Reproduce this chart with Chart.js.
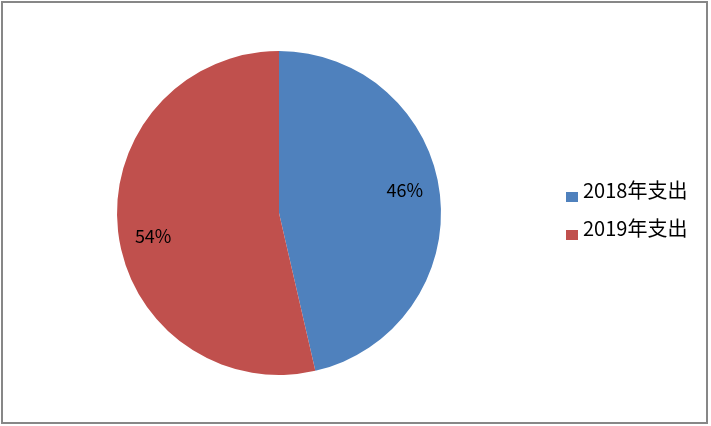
<!DOCTYPE html>
<html>
<head>
<meta charset="utf-8">
<script src="https://cdn.jsdelivr.net/npm/chart.js@4/dist/chart.umd.min.js"></script>
<style>
    html, body { margin: 0; padding: 0; background: #fff; }
    #wrap { position: relative; width: 711px; height: 426px; }
    #frame {
        position: absolute; left: 1px; top: 1px; width: 703px; height: 419px;
        border: 2px solid #878787;
    }
    canvas { position: absolute; left: 0; top: 0; }
</style>
</head>
<body>
<div id="wrap">
    <div id="frame"></div>
    <canvas id="pieChart" width="711" height="426"></canvas>
</div>
<script>
// Chart data
const categories = ['2018年支出', '2019年支出'];
const values = [46.4, 53.6];
const sliceColors = ['#4F81BD', '#C0504D'];

const labelFont = '18px "Noto Sans CJK SC", "Noto Sans", sans-serif';
const legendFont = '20px "Noto Sans CJK SC", "Noto Sans", sans-serif';

// Percent labels inside slices
const percentLabels = {
    id: 'percentLabels',
    afterDatasetsDraw(chart) {
        const ctx = chart.ctx;
        const meta = chart.getDatasetMeta(0);
        const total = values.reduce((a, b) => a + b, 0);
        ctx.save();
        ctx.font = labelFont;
        ctx.fillStyle = '#000';
        ctx.textAlign = 'center';
        ctx.textBaseline = 'middle';
        meta.data.forEach((arc, i) => {
            const p = arc.getProps(['x', 'y', 'startAngle', 'endAngle', 'outerRadius'], true);
            const mid = (p.startAngle + p.endAngle) / 2 - 0.07;
            const r = p.outerRadius * 0.79;
            const pct = Math.round(values[i] / total * 100) + '%';
            ctx.fillText(pct, p.x + Math.cos(mid) * r, p.y + Math.sin(mid) * r);
        });
        ctx.restore();
    }
};

// Legend on the right, drawn by hand
const sideLegend = {
    id: 'sideLegend',
    afterDraw(chart) {
        const ctx = chart.ctx;
        ctx.save();
        ctx.font = legendFont;
        ctx.textBaseline = 'alphabetic';
        categories.forEach((name, i) => {
            const y = 198 + i * 38;
            ctx.fillStyle = sliceColors[i];
            ctx.fillRect(566, y - 6, 12, 10);
            ctx.fillStyle = '#000';
            ctx.fillText(name, 583, y);
        });
        ctx.restore();
    }
};

new Chart(document.getElementById('pieChart'), {
    type: 'pie',
    data: {
        labels: categories,
        datasets: [{
            data: values,
            backgroundColor: sliceColors,
            borderWidth: 0
        }]
    },
    options: {
        responsive: false,
        animation: false,
        layout: {
            padding: { left: 117, top: 51, right: 270, bottom: 51 }
        },
        plugins: {
            legend: { display: false },
            tooltip: { enabled: false }
        }
    },
    plugins: [percentLabels, sideLegend]
});
</script>
</body>
</html>
